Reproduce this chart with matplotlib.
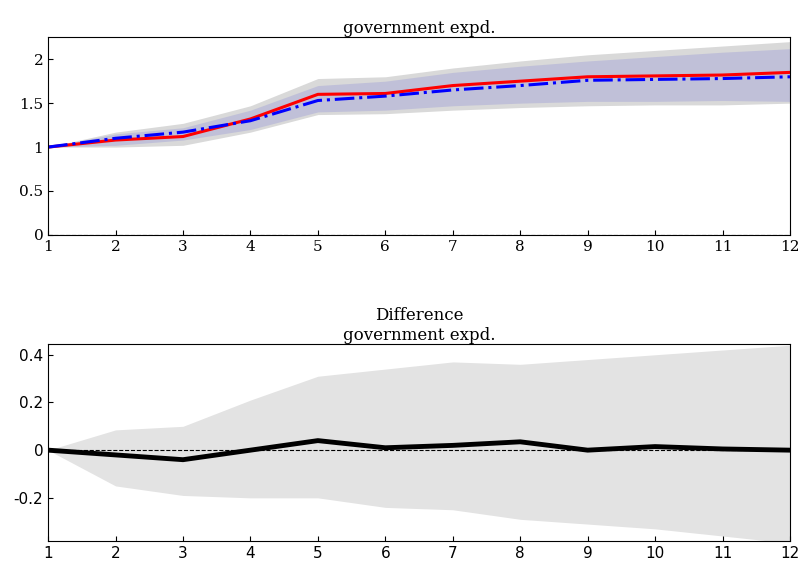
import matplotlib
matplotlib.use("Agg")
import matplotlib.pyplot as plt

horizon = list(range(1, 13))

# top panel: government expd. responses
red_line = [1, 1.08, 1.12, 1.32, 1.60, 1.61, 1.70, 1.75, 1.80, 1.81, 1.82, 1.85]
blue_line = [1, 1.10, 1.17, 1.30, 1.53, 1.58, 1.65, 1.70, 1.76, 1.77, 1.78, 1.80]
red_hi = [1, 1.17, 1.27, 1.47, 1.78, 1.80, 1.90, 1.98, 2.05, 2.10, 2.15, 2.20]
red_lo = [1, 1.00, 1.02, 1.17, 1.37, 1.38, 1.42, 1.45, 1.47, 1.48, 1.48, 1.50]
blue_hi = [1, 1.15, 1.22, 1.42, 1.70, 1.75, 1.85, 1.92, 1.98, 2.03, 2.08, 2.12]
blue_lo = [1, 1.02, 1.08, 1.20, 1.40, 1.42, 1.47, 1.50, 1.52, 1.52, 1.53, 1.52]

# bottom panel: difference
diff = [0, -0.02, -0.04, 0.0, 0.04, 0.01, 0.02, 0.035, 0.0, 0.015, 0.005, 0.0]
diff_hi = [0, 0.085, 0.10, 0.21, 0.31, 0.34, 0.37, 0.36, 0.38, 0.40, 0.42, 0.44]
diff_lo = [0, -0.15, -0.19, -0.20, -0.20, -0.24, -0.25, -0.29, -0.31, -0.33, -0.36, -0.39]

serif = "DejaVu Serif"
fig = plt.figure(figsize=(8.02, 5.73), dpi=100)

ax1 = fig.add_axes([0.06, 0.59, 0.925, 0.345])
ax1.fill_between(horizon, red_lo, red_hi, color="#d9d9d9", lw=0)
ax1.fill_between(horizon, blue_lo, blue_hi, color="#b0b0d8", alpha=0.6, lw=0)
ax1.plot(horizon, red_line, color="red", lw=2.2)
ax1.plot(horizon, blue_line, color="blue", lw=2.2, ls="-.")
ax1.axhline(0, color="k", ls="--", lw=0.8)
ax1.set_xlim(1, 12)
ax1.set_ylim(0, 2.25)
ax1.set_xticks(horizon)
ax1.set_yticks([0, 0.5, 1, 1.5, 2])
ax1.set_yticklabels(["0", "0.5", "1", "1.5", "2"])
ax1.set_title("government expd.", family=serif, fontsize=12, pad=3)
for lab in ax1.get_xticklabels() + ax1.get_yticklabels():
    lab.set_family(serif)
ax1.tick_params(labelsize=11, direction="in")

ax2 = fig.add_axes([0.06, 0.055, 0.925, 0.345])
ax2.fill_between(horizon, diff_lo, diff_hi, color="#e3e3e3", lw=0)
ax2.plot(horizon, diff, color="k", lw=3.5)
ax2.axhline(0, color="k", ls="--", lw=0.8)
ax2.set_xlim(1, 12)
ax2.set_ylim(-0.383, 0.446)
ax2.set_xticks(horizon)
ax2.set_yticks([-0.2, 0, 0.2, 0.4])
ax2.set_yticklabels(["-0.2", "0", "0.2", "0.4"])
ax2.set_title("Difference\ngovernment expd.", family=serif, fontsize=12, pad=3)
ax2.tick_params(labelsize=11, direction="in")

fig.savefig("out.png", dpi=100)
